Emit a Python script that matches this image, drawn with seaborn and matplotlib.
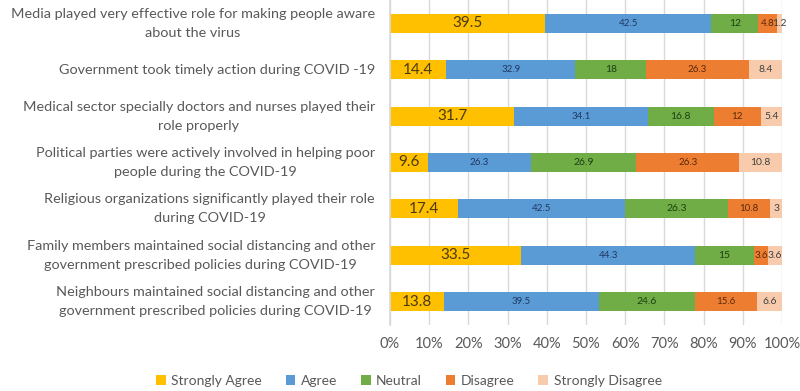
import numpy as np
import pandas as pd
import matplotlib
matplotlib.use("Agg")
import matplotlib.pyplot as plt
import seaborn as sns
from matplotlib.patches import Patch

statements = [
    "Media played very effective role for making people aware\nabout the virus",
    "Government took timely action during COVID -19",
    "Medical sector specially doctors and nurses played their\nrole properly",
    "Political parties were actively involved in helping poor\npeople during the COVID-19",
    "Religious organizations significantly played their role\nduring COVID-19",
    "Family members maintained social distancing and other\ngovernment prescribed policies during COVID-19",
    "Neighbours maintained social distancing and other\ngovernment prescribed policies during COVID-19",
]
series_names = ["Strongly Agree", "Agree", "Neutral", "Disagree", "Strongly Disagree"]
strongly_agree = [39.5, 14.4, 31.7, 9.6, 17.4, 33.5, 13.8]
agree = [42.5, 32.9, 34.1, 26.3, 42.5, 44.3, 39.5]
neutral = [12, 18, 16.8, 26.9, 26.3, 15, 24.6]
disagree = [4.8, 26.3, 12, 26.3, 10.8, 3.6, 15.6]
strongly_disagree = [1.2, 8.4, 5.4, 10.8, 3, 3.6, 6.6]
x_ticks = [0, 10, 20, 30, 40, 50, 60, 70, 80, 90, 100]

colors = ["#FFC000", "#5B9BD5", "#70AD47", "#ED7D31", "#F8CBAD"]
label_colors = ["#4a3a10", "#1f3864", "#1e4010", "#5a2a08", "#404040"]
label_sizes = [11, 7, 7.5, 7, 7.5]

values = np.array([strongly_agree, agree, neutral, disagree, strongly_disagree])
cum = np.cumsum(values, axis=0)

sns.set_theme(style="white")
plt.rcParams["font.family"] = ["Lato", "DejaVu Sans"]

fig = plt.figure(figsize=(8, 3.91), dpi=100)
ax = fig.add_axes([0.4875, 0.169, 0.49, 0.831])

for i in range(len(series_names) - 1, -1, -1):
    df = pd.DataFrame({"statement": statements, "value": cum[i]})
    sns.barplot(data=df, x="value", y="statement", order=statements,
                color=colors[i], saturation=1, width=0.41, ax=ax,
                linewidth=0, orient="h")

for i in range(len(series_names)):
    starts = cum[i] - values[i]
    for j, v in enumerate(values[i]):
        ax.text(starts[j] + v / 2, j, f"{v:g}", ha="center", va="center",
                fontsize=label_sizes[i], color=label_colors[i])

ax.set_xlim(0, 100)
ax.set_ylim(6.5, -0.5)
ax.set_xticks(x_ticks)
ax.set_xticklabels([f"{t}%" for t in x_ticks], fontsize=10.5, color="#595959")
ax.set_yticks(range(len(statements)))
ax.set_yticklabels([""] * len(statements))
ax.set_xlabel("")
ax.set_ylabel("")
ax.xaxis.grid(True, color="#d9d9d9", linewidth=1)
ax.set_axisbelow(True)
for sp in ["top", "right", "bottom"]:
    ax.spines[sp].set_visible(False)
ax.spines["left"].set_color("#d9d9d9")
ax.tick_params(axis="both", length=0)
ax.tick_params(axis="x", pad=9)

# category labels: each line centred, block right edge 15px left of the axis
ytrans = ax.get_yaxis_transform()
renderer = fig.canvas.get_renderer()
pitch_pt = 13.7
gap_pt = 10.8
for j, s in enumerate(statements):
    lines = s.split("\n")
    n = len(lines)
    texts = []
    for k, line in enumerate(lines):
        dy = ((n - 1) / 2 - k) * pitch_pt
        t = ax.annotate(line, xy=(0, j), xycoords=ytrans, xytext=(0, dy),
                        textcoords="offset points", ha="center", va="center",
                        fontsize=10.4, color="#595959")
        texts.append((t, dy))
    maxw = max(t.get_window_extent(renderer).width for t, _ in texts) * 72 / fig.dpi
    for t, dy in texts:
        t.set_position((-(gap_pt + maxw / 2), dy))

handles = [Patch(facecolor=c, edgecolor="none") for c in colors]
fig.legend(handles, series_names, loc="center", bbox_to_anchor=(0.511, 0.026),
           ncol=5, frameon=False, fontsize=10, handlelength=0.7,
           handleheight=0.7, columnspacing=1.7, handletextpad=0.4,
           labelcolor="#595959")

fig.savefig("out.png", dpi=100)
